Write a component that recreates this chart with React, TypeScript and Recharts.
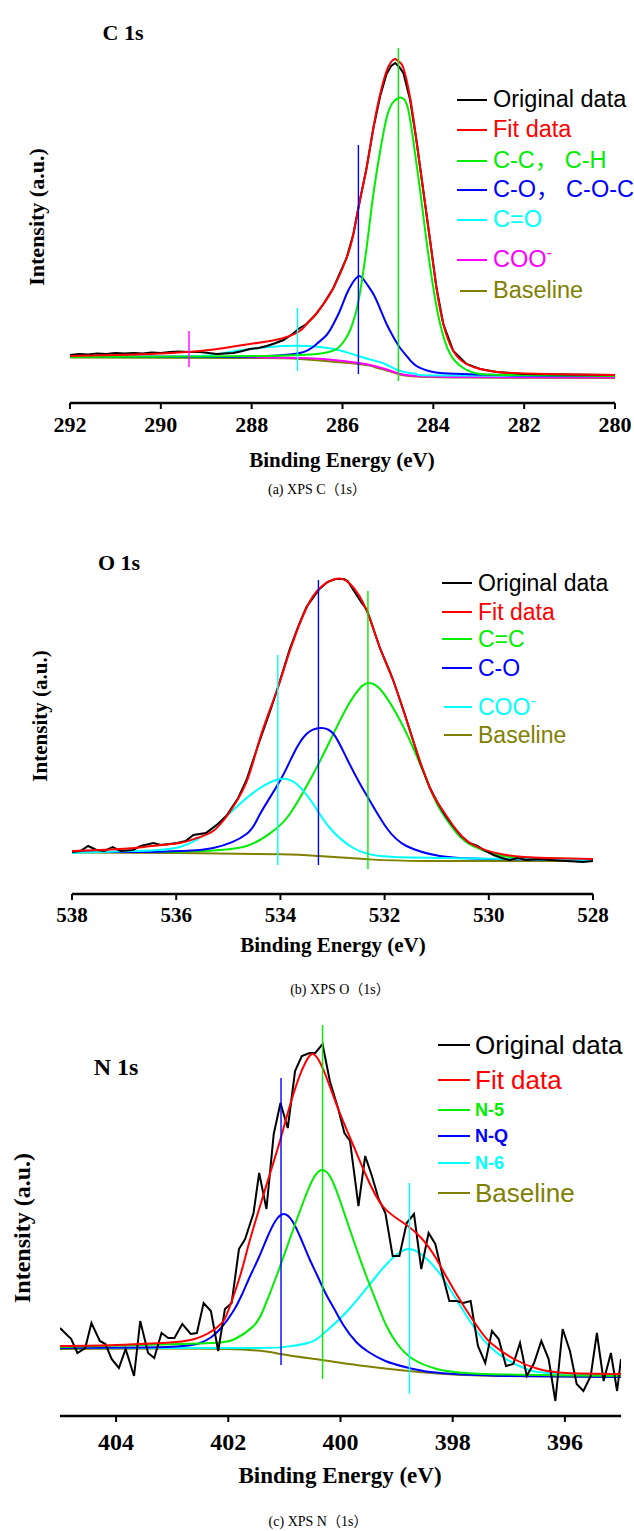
import React from 'react';
import { LineChart, Line, XAxis, YAxis, Legend } from 'recharts';

type P = [number, number];

const SERIF = '"Liberation Serif", "Times New Roman", "Noto Sans CJK SC", serif';
const SANS = '"Liberation Sans", Arial, "Noto Sans CJK SC", sans-serif';

const C_BLACK = '#000000';
const C_RED = '#ff0000';
const C_GREEN = '#00ee00';
const C_BLUE = '#0000ff';
const C_CYAN = '#00ffff';
const C_MAGENTA = '#ff00ff';
const C_OLIVE = '#808000';

// ---------------- (a) C 1s ----------------
const c1sTicks = [292, 290, 288, 286, 284, 282, 280];
const c1sOriginal: P[] = [
  [292.0, 48], [291.8, 49], [291.6, 48.5], [291.4, 49.5], [291.2, 49], [291.0, 50], [290.8, 49.5], [290.6, 50],
  [290.4, 49.5], [290.2, 50.5], [290.0, 50], [289.8, 51], [289.6, 51.5], [289.4, 51], [289.14, 51], [288.95, 50],
  [288.77, 49], [288.6, 49.5], [288.4, 50], [288.2, 52], [288.04, 54], [287.85, 55], [287.67, 57], [287.5, 59.5],
  [287.3, 63], [287.1, 69], [286.94, 75], [286.79, 79], [286.6, 88], [286.42, 99], [286.2, 115], [285.91, 145],
  [285.76, 169], [285.62, 202], [285.47, 235], [285.32, 275], [285.17, 307], [285.03, 329], [284.93, 337], [284.84, 340],
  [284.75, 336], [284.66, 330], [284.51, 303], [284.37, 262], [284.22, 212], [284.07, 162], [283.93, 115], [283.78, 79],
  [283.56, 52], [283.27, 39], [282.97, 34], [282.6, 31], [282.0, 29], [281.0, 28.5], [280.0, 28],
];
const c1sFit: P[] = [
  [292.0, 47], [291.0, 48], [290.0, 49.5], [289.14, 52], [288.6, 55], [288.04, 59], [287.67, 61.5], [287.3, 65],
  [286.94, 72], [286.79, 79], [286.6, 88], [286.42, 99], [286.2, 115], [285.91, 145], [285.76, 169], [285.62, 202],
  [285.47, 235], [285.32, 275], [285.17, 309], [285.03, 332], [284.93, 341], [284.84, 344], [284.75, 341], [284.66, 335],
  [284.51, 305], [284.37, 262], [284.22, 212], [284.07, 162], [283.93, 115], [283.78, 79], [283.56, 52], [283.27, 39],
  [282.97, 34], [282.6, 31], [282.0, 29.5], [281.0, 28.5], [280.0, 28],
];
const c1sCC: P[] = [
  [292.0, 46], [289.0, 46.5], [287.67, 47], [287.0, 48], [286.57, 49], [286.3, 51], [286.13, 54], [285.98, 61],
  [285.84, 72], [285.72, 88], [285.62, 109], [285.47, 155], [285.32, 209], [285.17, 252], [285.03, 285], [284.9, 300],
  [284.77, 305], [284.65, 304], [284.55, 293], [284.44, 262], [284.29, 212], [284.15, 162], [284.0, 115], [283.85, 79],
  [283.63, 49], [283.34, 35], [282.97, 29], [282.0, 28], [280.0, 27],
];
const c1sCO: P[] = [
  [292.0, 46], [289.0, 46], [288.0, 46.5], [287.67, 47], [286.94, 50], [286.57, 59], [286.35, 68], [286.2, 79],
  [286.05, 93], [285.91, 109], [285.78, 120], [285.63, 127], [285.48, 120], [285.32, 109], [285.17, 94], [285.03, 79],
  [284.88, 66], [284.73, 55], [284.55, 45], [284.37, 37], [284.1, 32], [283.85, 30], [283.34, 29], [282.0, 27.5],
  [280.0, 27],
];
const c1sCdO: P[] = [
  [292.0, 46], [290.5, 46.5], [289.14, 47], [288.6, 50], [288.04, 54], [287.3, 57], [286.79, 57], [286.2, 54],
  [285.65, 47], [285.35, 43], [285.06, 39], [284.73, 32], [284.37, 29], [283.8, 27.5], [280.0, 27],
];
const c1sCOO: P[] = [
  [292.0, 47], [289.14, 46.5], [286.94, 45], [286.2, 43], [285.65, 40], [285.3, 37], [285.06, 34], [284.9, 31.5],
  [284.73, 29], [284.5, 27.5], [284.37, 27], [283.34, 26], [280.0, 25.5],
];
const c1sBaseline: P[] = [
  [292.0, 45.5], [288.0, 45], [286.94, 44], [285.65, 39], [285.3, 36], [285.06, 33], [284.73, 28.5], [284.37, 26.5],
  [283.34, 25.5], [280.0, 25],
];
const c1sMarkerPos = [284.77, 285.65, 286.99, 289.38];
const c1sMarkerLow = [22, 29, 32, 36];
const c1sMarkerHigh = [355, 258, 95, 72];

// ---------------- (b) O 1s ----------------
const o1sTicks = [538, 536, 534, 532, 530, 528];
const o1sOriginal: P[] = [
  [538.0, 42], [537.84, 43], [537.69, 48], [537.53, 44], [537.38, 43], [537.22, 47], [537.07, 43], [536.83, 44],
  [536.68, 48], [536.44, 51], [536.29, 49], [535.98, 51], [535.82, 53], [535.67, 59], [535.43, 61], [535.2, 70],
  [535.04, 78], [534.81, 96], [534.65, 114], [534.42, 150], [534.19, 184], [534.07, 203], [533.82, 245], [533.64, 270],
  [533.5, 287], [533.25, 305], [533.1, 312], [532.94, 315], [532.78, 315], [532.71, 313], [532.55, 300], [532.45, 292],
  [532.34, 284], [532.24, 269], [532.09, 246], [531.93, 226], [531.83, 213], [531.62, 181], [531.45, 153], [531.31, 130],
  [531.13, 106], [530.99, 92], [530.84, 79], [530.69, 68], [530.53, 58], [530.37, 51], [530.22, 48], [530.06, 43],
  [529.91, 39], [529.75, 36], [529.6, 34], [529.44, 36], [529.28, 34], [529.05, 35], [528.82, 34], [528.51, 33],
  [528.19, 32], [528.0, 33],
];
const o1sFit: P[] = [
  [538.0, 43], [537.46, 44], [536.8, 46], [536.29, 49], [535.93, 51], [535.6, 56], [535.29, 63], [535.0, 80],
  [534.65, 112], [534.39, 156], [534.07, 203], [533.82, 243], [533.5, 286], [533.24, 306], [532.95, 315], [532.66, 310],
  [532.34, 283], [532.09, 246], [531.83, 213], [531.45, 153], [531.13, 106], [530.94, 88], [530.68, 68], [530.33, 50],
  [529.67, 39], [528.9, 36], [528.0, 35],
];
const o1sCdC: P[] = [
  [538.0, 42], [536.5, 42], [535.5, 43], [534.65, 48], [534.14, 63], [533.82, 80], [533.37, 120], [533.05, 153],
  [532.73, 186], [532.47, 206], [532.31, 211], [532.09, 205], [531.77, 180], [531.45, 146], [531.13, 106], [530.94, 85],
  [530.6, 60], [530.3, 48], [529.9, 40], [529.3, 36], [528.0, 35],
];
const o1sCO: P[] = [
  [538.0, 42], [536.5, 42], [535.93, 43], [535.29, 46], [534.65, 60], [534.39, 80], [534.01, 113], [533.75, 140],
  [533.5, 160], [533.23, 166], [532.98, 160], [532.73, 136], [532.47, 110], [532.28, 93], [531.96, 66], [531.58, 48],
  [530.94, 38], [530.0, 35], [528.0, 34],
];
const o1sCOO: P[] = [
  [538.0, 41], [536.83, 43], [535.93, 47], [535.29, 66], [534.78, 90], [534.39, 106], [534.01, 115], [533.69, 110],
  [533.37, 90], [533.05, 66], [532.6, 46], [532.09, 38], [530.94, 36], [528.0, 34],
];
const o1sBaseline: P[] = [
  [538.0, 41.5], [536.0, 41], [534.01, 39.7], [533.27, 38], [532.31, 34.7], [531.2, 33], [528.0, 33],
];
const o1sMarkerPos = [534.05, 533.27, 532.32];
const o1sMarkerLow = [29, 29, 25];
const o1sMarkerHigh = [239, 314, 303];

// ---------------- (c) N 1s ----------------
const n1sTicks = [404, 402, 400, 398, 396];
const n1sOriginal: P[] = [
  [405.0, 88], [404.91, 83], [404.8, 77], [404.69, 63], [404.55, 68], [404.44, 93], [404.29, 75], [404.19, 72],
  [404.08, 57], [403.95, 48], [403.83, 67], [403.68, 40], [403.57, 95], [403.43, 63], [403.32, 58], [403.19, 83],
  [403.07, 78], [402.96, 78], [402.82, 92], [402.67, 82], [402.56, 83], [402.44, 113], [402.31, 105], [402.18, 65],
  [402.06, 107], [401.94, 113], [401.81, 167], [401.7, 177], [401.55, 203], [401.45, 243], [401.32, 207], [401.19, 282],
  [401.07, 313], [400.94, 288], [400.81, 345], [400.69, 360], [400.55, 363], [400.45, 363], [400.32, 372], [400.19, 335],
  [400.04, 307], [399.93, 283], [399.83, 275], [399.68, 210], [399.56, 260], [399.44, 240], [399.32, 217], [399.2, 203],
  [399.07, 160], [398.95, 160], [398.82, 193], [398.69, 202], [398.56, 147], [398.43, 183], [398.31, 172], [398.19, 143],
  [398.06, 115], [397.93, 115], [397.81, 113], [397.68, 115], [397.55, 70], [397.42, 53], [397.3, 85], [397.18, 77],
  [397.05, 50], [396.92, 52], [396.8, 73], [396.68, 40], [396.55, 53], [396.42, 75], [396.29, 57], [396.17, 15],
  [396.04, 87], [395.91, 65], [395.79, 32], [395.67, 25], [395.54, 40], [395.43, 83], [395.31, 35], [395.18, 63],
  [395.07, 25], [395.0, 57],
];
const n1sFit: P[] = [
  [405.0, 70], [404.0, 71], [403.18, 73], [402.6, 77], [402.17, 90], [401.99, 107], [401.79, 140], [401.63, 173],
  [401.45, 207], [401.27, 240], [401.09, 273], [400.93, 305], [400.75, 337], [400.62, 354], [400.51, 362], [400.4, 357],
  [400.26, 340], [400.04, 307], [399.79, 273], [399.54, 240], [399.25, 210], [398.9, 194], [398.56, 178], [398.3, 158],
  [398.1, 138], [397.77, 107], [397.48, 83], [397.3, 72], [396.91, 57], [396.47, 47], [395.97, 43], [395.0, 42],
];
const n1sN5: P[] = [
  [405.0, 69], [402.82, 72], [402.13, 73.5], [401.88, 77], [401.55, 90], [401.37, 107], [401.14, 140], [400.91, 176],
  [400.65, 216], [400.48, 238], [400.33, 246], [400.17, 238], [400.0, 214], [399.77, 176], [399.54, 140], [399.31, 107],
  [399.18, 90], [399.0, 73], [398.71, 57], [398.28, 47], [397.41, 42], [395.0, 40],
];
const n1sNQ: P[] = [
  [405.0, 68], [403.5, 68.5], [402.8, 70], [402.5, 73], [402.3, 79], [402.13, 88], [401.92, 104], [401.76, 121],
  [401.61, 140], [401.46, 158], [401.31, 178], [401.16, 195], [401.01, 202], [400.86, 195], [400.71, 178], [400.56, 158],
  [400.41, 140], [400.26, 122], [400.11, 107], [399.95, 91], [399.72, 74], [399.5, 64], [399.2, 55], [398.85, 49],
  [398.4, 44], [397.8, 41.5], [397.0, 40], [395.0, 39],
];
const n1sN6: P[] = [
  [405.0, 68], [401.74, 68], [401.01, 69], [400.58, 73], [400.29, 83], [399.86, 106], [399.36, 140], [399.05, 159],
  [398.78, 167], [398.5, 159], [398.2, 140], [397.84, 108], [397.56, 84], [397.35, 70], [397.05, 57], [396.69, 47],
  [396.26, 43], [395.0, 41],
];
const n1sBaseline: P[] = [
  [405.0, 67], [402.02, 67], [401.07, 62], [400.33, 56], [399.57, 50], [398.78, 45], [398.13, 42], [397.05, 40],
  [395.0, 39],
];
const n1sMarkerPos = [401.06, 400.32, 398.77];
const n1sMarkerLow = [51, 37, 22];
const n1sMarkerHigh = [338, 391, 233];

// ---------------- helpers ----------------
const toData = (pts: P[]) => pts.map(([e, v]) => ({ e, v }));

type Series = { name: string; pts: P[]; color: string; smooth: boolean; width: number };
type LegendRow = { label: string; color: string; cy: number; size: number; bold?: boolean; sup?: string; lineX?: number };

type Panel = {
  top: number;
  height: number;
  margin: { top: number; right: number; bottom: number; left: number };
  domain: [number, number];
  ticks: number[];
  yMax: number;
  tickFont: number;
  tickMargin: number;
  series: Series[];
  markerPos: number[];
  markerLow: number[];
  markerHigh: number[];
  markerColors: string[];
  legendRows: LegendRow[];
  legendLineX: number;
  legendLineW: number;
  legendTextX: number;
  title: string;
  titlePos: [number, number, number];
  xLabelPos: [number, number, number];
  yLabelPos: [number, number, number];
  caption: string;
  captionPos: [number, number];
};

const Txt = ({ x, y, size, children, rotate, weight, family }: any) => (
  <div
    style={{
      position: 'absolute',
      left: x,
      top: y,
      transform: `translate(-50%, -50%)${rotate ? ' rotate(-90deg)' : ''}`,
      fontSize: size,
      fontWeight: weight ?? 'bold',
      fontFamily: family ?? SERIF,
      lineHeight: 1,
      whiteSpace: 'nowrap',
      color: '#000',
    }}
  >
    {children}
  </div>
);

const LegendBox = ({ p }: { p: Panel }) => (
  <div style={{ position: 'absolute', left: 0, top: 0, width: 634, height: p.height }}>
    {p.legendRows.map((r) => {
      const lx = r.lineX ?? p.legendLineX;
      return (
        <div
          key={r.label}
          style={{
            position: 'absolute',
            left: lx,
            top: r.cy - 16,
            height: 32,
            display: 'flex',
            alignItems: 'center',
            whiteSpace: 'nowrap',
          }}
        >
          <span
            style={{
              display: 'inline-block',
              width: p.legendLineW - (lx - p.legendLineX),
              height: 2,
              background: r.color,
            }}
          />
          <span
            style={{
              position: 'absolute',
              left: p.legendTextX - lx,
              color: r.color,
              fontSize: r.size,
              fontWeight: r.bold ? 'bold' : 'normal',
              fontFamily: SANS,
              lineHeight: 1,
            }}
          >
            {r.label}
            {r.sup ? (
              <span style={{ fontSize: '0.7em', position: 'relative', top: '-0.55em' }}>{r.sup}</span>
            ) : null}
          </span>
        </div>
      );
    })}
  </div>
);

const makeTick = (size: number) => (props: any) => {
  const { x, y, payload } = props;
  return (
    <text
      x={x}
      y={y}
      dy="0.71em"
      textAnchor="middle"
      fontSize={size}
      fontWeight="bold"
      fontFamily={SERIF}
      fill="#000"
    >
      {payload.value}
    </text>
  );
};

const PanelView = ({ p }: { p: Panel }) => {
  return (
    <div style={{ position: 'absolute', left: 0, top: p.top, width: 634, height: p.height + 80 }}>
      <LineChart width={634} height={p.height} margin={p.margin}>
        <XAxis
          dataKey="e"
          type="number"
          domain={p.domain}
          reversed
          allowDataOverflow
          ticks={p.ticks}
          interval={0}
          height={47}
          tickSize={6}
          tickMargin={p.tickMargin}
          tick={makeTick(p.tickFont)}
          tickLine={{ stroke: '#000', strokeWidth: 2 }}
          axisLine={{ stroke: '#000', strokeWidth: 2.5 }}
        />
        <YAxis
          type="number"
          domain={[0, p.yMax]}
          allowDataOverflow
          width={0}
          tick={false}
          tickLine={false}
          axisLine={{ stroke: '#000', strokeWidth: 2.5 }}
        />
        {p.series.map((s) => (
          <Line
            key={s.name}
            name={s.name}
            data={toData(s.pts)}
            dataKey="v"
            type={s.smooth ? 'natural' : 'linear'}
            stroke={s.color}
            strokeWidth={s.width}
            dot={false}
            activeDot={false}
            isAnimationActive={false}
            legendType="none"
          />
        ))}
        {p.markerPos.map((pos, i) => (
          <Line
            key={'m' + i}
            name={'marker' + i}
            data={[
              { e: pos, v: p.markerLow[i] },
              { e: pos, v: p.markerHigh[i] },
            ]}
            dataKey="v"
            type="linear"
            stroke={p.markerColors[i]}
            strokeWidth={1.4}
            dot={false}
            activeDot={false}
            isAnimationActive={false}
            legendType="none"
          />
        ))}
        <Legend
          layout="horizontal"
          verticalAlign="middle"
          align="center"
          wrapperStyle={{ left: 1, top: 1, width: 1, height: 1, overflow: 'visible' }}
          content={() => (
            <div style={{ position: 'relative', left: -1, top: -1 }}>
              <LegendBox p={p} />
            </div>
          )}
        />
      </LineChart>
      <Txt x={p.titlePos[0]} y={p.titlePos[1]} size={p.titlePos[2]}>
        {p.title}
      </Txt>
      <Txt x={p.xLabelPos[0]} y={p.xLabelPos[1]} size={p.xLabelPos[2]}>
        Binding Energy (eV)
      </Txt>
      <Txt x={p.yLabelPos[0]} y={p.yLabelPos[1]} size={p.yLabelPos[2]} rotate>
        Intensity (a.u.)
      </Txt>
      <Txt x={p.captionPos[0]} y={p.captionPos[1]} size={14} weight="normal">
        {p.caption}
      </Txt>
    </div>
  );
};

const panelA: Panel = {
  top: 0,
  height: 450,
  margin: { top: 13, right: 19, bottom: 0, left: 70 },
  domain: [280, 292],
  ticks: c1sTicks,
  yMax: 390,
  tickFont: 22,
  tickMargin: 7,
  series: [
    { name: 'Baseline', pts: c1sBaseline, color: C_OLIVE, smooth: true, width: 2 },
    { name: 'COO-', pts: c1sCOO, color: C_MAGENTA, smooth: true, width: 2 },
    { name: 'C=O', pts: c1sCdO, color: C_CYAN, smooth: true, width: 2 },
    { name: 'C-O', pts: c1sCO, color: C_BLUE, smooth: true, width: 2 },
    { name: 'C-C', pts: c1sCC, color: C_GREEN, smooth: true, width: 2 },
    { name: 'Original data', pts: c1sOriginal, color: C_BLACK, smooth: false, width: 2 },
    { name: 'Fit data', pts: c1sFit, color: C_RED, smooth: true, width: 2 },
  ],
  markerPos: c1sMarkerPos,
  markerLow: c1sMarkerLow,
  markerHigh: c1sMarkerHigh,
  markerColors: [C_GREEN, C_BLUE, C_CYAN, C_MAGENTA],
  legendRows: [
    { label: 'Original data', color: C_BLACK, cy: 100, size: 23.5 },
    { label: 'Fit data', color: C_RED, cy: 130, size: 23.5 },
    { label: 'C-C， C-H', color: C_GREEN, cy: 161, size: 23.5 },
    { label: 'C-O， C-O-C', color: C_BLUE, cy: 190, size: 23.5 },
    { label: 'C=O', color: C_CYAN, cy: 220, size: 23.5 },
    { label: 'COO', sup: '-', color: C_MAGENTA, cy: 260, size: 23.5 },
    { label: 'Baseline', color: C_OLIVE, cy: 291, size: 23.5, lineX: 460 },
  ],
  legendLineX: 457,
  legendLineW: 30,
  legendTextX: 493,
  title: 'C 1s',
  titlePos: [123, 33, 22],
  xLabelPos: [342, 460, 21],
  yLabelPos: [37, 217, 22],
  caption: '(a) XPS C（1s）',
  captionPos: [317, 490],
};

const panelB: Panel = {
  top: 510,
  height: 431,
  margin: { top: 13, right: 41, bottom: 0, left: 72 },
  domain: [528, 538],
  ticks: o1sTicks,
  yMax: 371,
  tickFont: 21,
  tickMargin: 7,
  series: [
    { name: 'Baseline', pts: o1sBaseline, color: C_OLIVE, smooth: true, width: 2 },
    { name: 'C=C', pts: o1sCdC, color: C_GREEN, smooth: true, width: 2 },
    { name: 'C-O', pts: o1sCO, color: C_BLUE, smooth: true, width: 2 },
    { name: 'COO-', pts: o1sCOO, color: C_CYAN, smooth: true, width: 2 },
    { name: 'Original data', pts: o1sOriginal, color: C_BLACK, smooth: false, width: 2 },
    { name: 'Fit data', pts: o1sFit, color: C_RED, smooth: true, width: 2 },
  ],
  markerPos: o1sMarkerPos,
  markerLow: o1sMarkerLow,
  markerHigh: o1sMarkerHigh,
  markerColors: [C_CYAN, C_BLUE, C_GREEN],
  legendRows: [
    { label: 'Original data', color: C_BLACK, cy: 73, size: 23 },
    { label: 'Fit data', color: C_RED, cy: 102, size: 23 },
    { label: 'C=C', color: C_GREEN, cy: 129, size: 23 },
    { label: 'C-O', color: C_BLUE, cy: 158, size: 23 },
    { label: 'COO', sup: '-', color: C_CYAN, cy: 197, size: 23, lineX: 444 },
    { label: 'Baseline', color: C_OLIVE, cy: 225, size: 23, lineX: 444 },
  ],
  legendLineX: 442,
  legendLineW: 30,
  legendTextX: 478,
  title: 'O 1s',
  titlePos: [119, 53, 22],
  xLabelPos: [333, 435, 21],
  yLabelPos: [40, 206, 21],
  caption: '(b) XPS O（1s）',
  captionPos: [340, 480],
};

const panelC: Panel = {
  top: 1010,
  height: 453,
  margin: { top: 12, right: 13, bottom: 0, left: 60 },
  domain: [395, 405],
  ticks: n1sTicks,
  yMax: 394,
  tickFont: 24,
  tickMargin: 11,
  series: [
    { name: 'Baseline', pts: n1sBaseline, color: C_OLIVE, smooth: true, width: 2 },
    { name: 'N-6', pts: n1sN6, color: C_CYAN, smooth: true, width: 2 },
    { name: 'N-Q', pts: n1sNQ, color: C_BLUE, smooth: true, width: 2 },
    { name: 'N-5', pts: n1sN5, color: C_GREEN, smooth: true, width: 2 },
    { name: 'Original data', pts: n1sOriginal, color: C_BLACK, smooth: false, width: 2 },
    { name: 'Fit data', pts: n1sFit, color: C_RED, smooth: true, width: 2 },
  ],
  markerPos: n1sMarkerPos,
  markerLow: n1sMarkerLow,
  markerHigh: n1sMarkerHigh,
  markerColors: [C_BLUE, C_GREEN, C_CYAN],
  legendRows: [
    { label: 'Original data', color: C_BLACK, cy: 35, size: 26 },
    { label: 'Fit data', color: C_RED, cy: 70, size: 26 },
    { label: 'N-5', color: C_GREEN, cy: 100, size: 18, bold: true },
    { label: 'N-Q', color: C_BLUE, cy: 126, size: 18, bold: true },
    { label: 'N-6', color: C_CYAN, cy: 153, size: 18, bold: true },
    { label: 'Baseline', color: C_OLIVE, cy: 183, size: 26 },
  ],
  legendLineX: 438,
  legendLineW: 32,
  legendTextX: 475,
  title: 'N 1s',
  titlePos: [116, 57, 24],
  xLabelPos: [340, 465, 23],
  yLabelPos: [22, 218, 24],
  caption: '(c) XPS N（1s）',
  captionPos: [318, 512],
};

export default function App() {
  return (
    <div
      style={{
        position: 'absolute',
        left: 0,
        top: 0,
        width: 634,
        height: 1531,
        overflow: 'hidden',
        background: '#fff',
      }}
    >
      <PanelView p={panelA} />
      <PanelView p={panelB} />
      <PanelView p={panelC} />
    </div>
  );
}
